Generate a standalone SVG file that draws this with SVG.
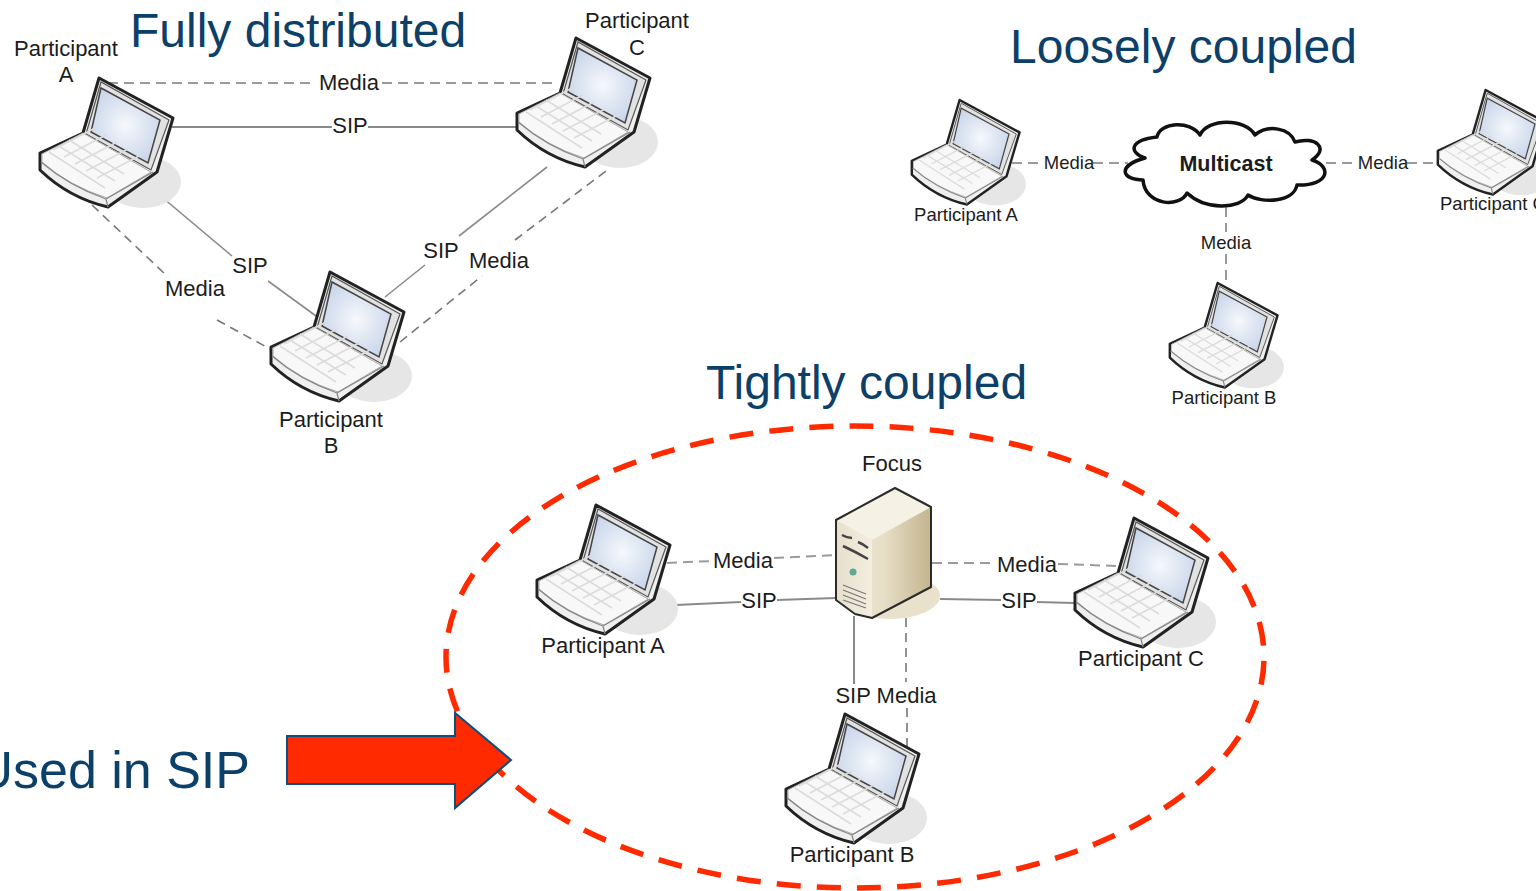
<svg xmlns="http://www.w3.org/2000/svg" width="1536" height="891" viewBox="0 0 1536 891">
<style>
text{font-family:"Liberation Sans",Arial,sans-serif;fill:#1c1c1c}
.t{font-size:48px;fill:#0c4068}
.l{font-size:22px}
.s{font-size:18.5px}
.m{text-anchor:middle}
.sol{stroke:#8a8a8a;stroke-width:2;fill:none}
.das{stroke:#9a9a9a;stroke-width:2;fill:none;stroke-dasharray:10 6}
.ds{stroke:#777;stroke-width:1.6;fill:none;stroke-dasharray:9 6}
</style>
<defs>
<radialGradient id="scr" cx=".5" cy=".5" r=".6"><stop offset="0" stop-color="#f6f8fc"/><stop offset="1" stop-color="#c6d3e8"/></radialGradient>
<linearGradient id="side" x1="0" x2="1" y1="0" y2="0"><stop offset="0" stop-color="#efe9da"/><stop offset=".5" stop-color="#e8dfc8"/><stop offset="1" stop-color="#c4b48f"/></linearGradient>
<linearGradient id="front" x1="0" x2="1" y1="0" y2="0"><stop offset="0" stop-color="#e6dfcb"/><stop offset="1" stop-color="#f3eee0"/></linearGradient>
<g id="laptop">
<ellipse cx="104" cy="104" rx="38" ry="26" fill="#e6e6e6"/>
<path d="M1 75L44 55L60 0L134 40L118 94L69 129Q30 120 1 92Z" fill="#efefef" stroke="#222" stroke-width="3" stroke-linejoin="round"/>
<path d="M47 56L62 4L130 42L112 92Z" fill="#e2e2e2" stroke="#555" stroke-width="1.2"/>
<path d="M52 54L62 10L121 42L109 85Z" fill="url(#scr)" stroke="#444" stroke-width="1.5"/>
<path d="M3 76L44 55L112 94L68 120Q30 108 3 84Z" fill="#f8f8f8" stroke="#aaa" stroke-width="1"/>
<path d="M14 72L56 50M25 79L67 57M36 86L78 64M47 93L89 71M58 100L100 78M30 62L85 96M20 68L76 103M10 74L66 110" stroke="#dcdcdc" stroke-width="1.6" fill="none"/>
<path d="M2 84Q30 108 67 121L69 129M67 121L114 94" fill="none" stroke="#888" stroke-width="1.3"/>
</g>
<g id="server">
<ellipse cx="890" cy="596" rx="50" ry="23" fill="#e9e1cb"/>
<path d="M836 520L895 488L931 507V587L873 618L855 614L836 600Z" fill="url(#side)"/>
<path d="M836 520L895 488L931 507L872 540Z" fill="#f5f1e5"/>
<path d="M872 540V618L855 614L836 600V520Z" fill="url(#front)"/>
<path d="M836 520L895 488L931 507V587L872 618L855 614L836 600Z" fill="none" stroke="#2b2b2b" stroke-width="2" stroke-linejoin="round"/>
<path d="M842 535Q847 538 852 538M858 542Q863 544 868 548M843 546Q856 552 868 559" stroke="#444" stroke-width="2.5" fill="none"/>
<circle cx="853" cy="572" r="3.5" fill="#5da88f"/>
<path d="M843 585L866 594M843 590L866 599M843 595L866 604M843 600L866 608" stroke="#777" stroke-width="1.2" fill="none"/>
</g>
</defs>
<rect width="1536" height="891" fill="#fff"/>
<g id="connectors">
<path class="das" d="M108 83H315M382 83H558"/>
<path class="sol" d="M172 127H332M368 127H516"/>
<path class="sol" style="stroke-width:1.6" d="M163 198L232 256M268 281L316 316"/>
<path class="ds" d="M92 205L165 274M217 320L272 350"/>
<path class="sol" style="stroke-width:1.6" d="M385 297L425 265M459 236L547 167"/>
<path class="ds" d="M400 342L482 276M515 240L610 168"/>
<path class="das" d="M1012 163H1044M1093 163H1128M1326 163H1358M1407 163H1438"/>
<path class="das" d="M1226 207V232M1226 254V284"/>
<path class="das" d="M667 563L712 561M774 558L836 555M932 563H996M1058 564L1118 566"/>
<path class="sol" d="M676 605L741 602M777 600L836 598M940 599L1001 600M1037 602L1074 603"/>
<path class="sol" d="M854 616V684"/>
<path class="ds" d="M906 618V682M907 708V770"/>
<ellipse cx="855" cy="657" rx="409" ry="231" fill="none" stroke="#ff2a00" stroke-width="5.5" stroke-dasharray="24 16.19" stroke-dashoffset="-4"/>
</g>
<g id="titles">
<text class="t" x="130" y="47">Fully distributed</text>
<text class="t" x="1010" y="63">Loosely coupled</text>
<text class="t" x="706" y="399">Tightly coupled</text>
<text class="t" x="250" y="788" text-anchor="end" style="font-size:52px">Used in SIP</text>
</g>
<g id="participant-a-full"><use href="#laptop" transform="translate(39 78)"/><text class="l m" x="66" y="56">Participant</text><text class="l m" x="66" y="82">A</text></g>
<g id="participant-c-full"><use href="#laptop" transform="translate(516 38)"/><text class="l m" x="637" y="28">Participant</text><text class="l m" x="637" y="55">C</text></g>
<g id="participant-b-full"><use href="#laptop" transform="translate(270 272)"/><text class="l m" x="331" y="427">Participant</text><text class="l m" x="331" y="453">B</text></g>
<g id="labels-full">
<text class="l m" x="349" y="90">Media</text><text class="l m" x="350" y="133">SIP</text><text class="l m" x="250" y="273">SIP</text><text class="l m" x="195" y="296">Media</text><text class="l m" x="441" y="258">SIP</text><text class="l m" x="499" y="268">Media</text>
</g>
<g id="participant-a-loose"><use href="#laptop" transform="translate(911 100) scale(.81)"/><text class="s m" x="966" y="221">Participant A</text></g>
<g id="participant-c-loose"><use href="#laptop" transform="translate(1437 90) scale(.81)"/><text class="s" x="1440" y="210">Participant C</text></g>
<g id="participant-b-loose"><use href="#laptop" transform="translate(1169 283) scale(.81)"/><text class="s m" x="1224" y="404">Participant B</text></g>
<g id="multicast">
<path d="M1145 158C1128 152 1130 140 1157 137C1160 122 1190 120 1200 135C1208 118 1245 118 1255 135C1268 124 1290 128 1295 142C1315 136 1330 148 1312 160C1332 166 1330 186 1297 185C1294 202 1262 204 1248 195C1240 210 1205 210 1187 193C1180 208 1145 206 1143 180C1122 180 1116 166 1145 158Z" fill="#fff" stroke="#111" stroke-width="3.5" stroke-linejoin="round"/>
<text x="1226" y="171" text-anchor="middle" font-weight="bold" font-size="21.5px">Multicast</text>
</g>
<g id="labels-loose"><text class="s m" x="1069" y="169">Media</text><text class="s m" x="1383" y="169">Media</text><text class="s m" x="1226" y="249">Media</text></g>
<g id="focus"><use href="#server"/><text class="l m" x="892" y="471">Focus</text></g>
<g id="participant-a-tight"><use href="#laptop" transform="translate(536 505)"/><text class="l m" x="603" y="653">Participant A</text></g>
<g id="participant-c-tight"><use href="#laptop" transform="translate(1074 518)"/><text class="l m" x="1141" y="666">Participant C</text></g>
<g id="participant-b-tight"><use href="#laptop" transform="translate(785 714)"/><text class="l m" x="852" y="862">Participant B</text></g>
<g id="labels-tight"><text class="l m" x="743" y="568">Media</text><text class="l m" x="759" y="608">SIP</text><text class="l m" x="1027" y="572">Media</text><text class="l m" x="1019" y="608">SIP</text><text class="l m" x="886" y="703">SIP Media</text></g>
<path id="red-arrow" d="M287 736H455V713L511 760L455 808V784H287Z" fill="#ff2a00" stroke="#0c4f7c" stroke-width="2"/>
</svg>
